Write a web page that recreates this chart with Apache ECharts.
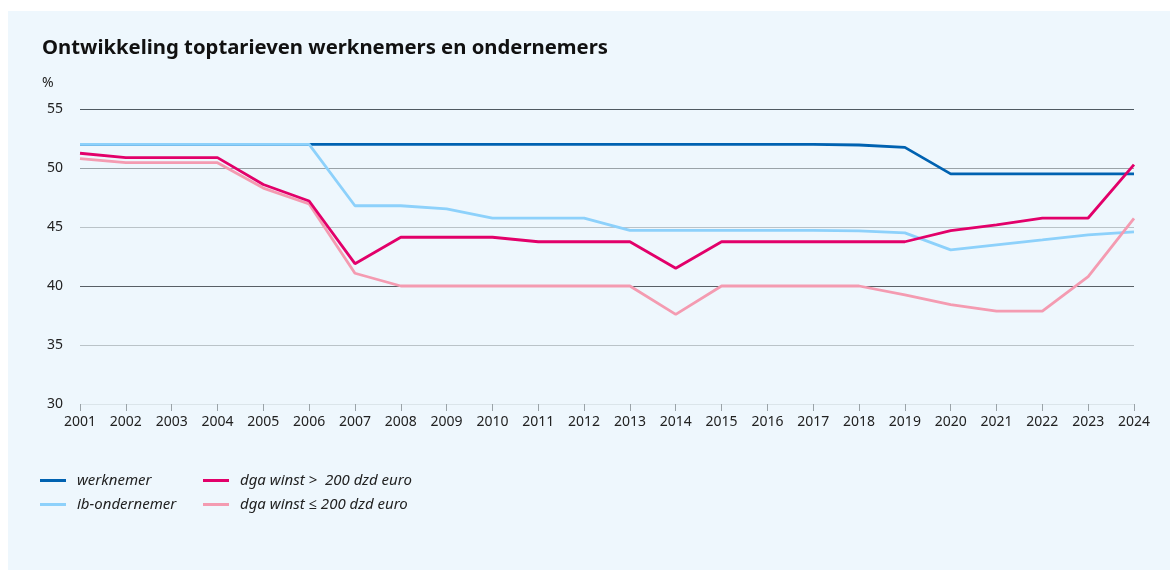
<!DOCTYPE html>
<html>
<head>
<meta charset="utf-8">
<script src="https://cdn.jsdelivr.net/npm/echarts@6/dist/echarts.min.js"></script>
<style>
  html, body { margin: 0; padding: 0; background: #fff; }
  #wrap { position: relative; width: 1170px; height: 570px; background: #fff; }
  #chart { position: absolute; left: 8px; top: 11px; width: 1162px; height: 559px; background: #eef7fd; }
</style>
</head>
<body>
<div id="wrap"><div id="chart"></div></div>
<script>
// jaren op de x-as
const years = ["2001", "2002", "2003", "2004", "2005", "2006", "2007", "2008", "2009", "2010", "2011", "2012",
  "2013", "2014", "2015", "2016", "2017", "2018", "2019", "2020", "2021", "2022", "2023", "2024"];

// toptarieven in %
const werknemer = [52, 52, 52, 52, 52, 52, 52, 52, 52, 52, 52, 52,
  52, 52, 52, 52, 52, 51.95, 51.75, 49.5, 49.5, 49.5, 49.5, 49.5];
const ibOndernemer = [52, 52, 52, 52, 52, 52, 46.8, 46.8, 46.54, 45.76, 45.76, 45.76,
  44.72, 44.72, 44.72, 44.72, 44.72, 44.68, 44.5, 43.06, 43.48, 43.9, 44.33, 44.58];
const dgaBoven = [51.25, 50.88, 50.88, 50.88, 48.6, 47.2, 41.89, 44.13, 44.13, 44.13, 43.75, 43.75,
  43.75, 41.5, 43.75, 43.75, 43.75, 43.75, 43.75, 44.69, 45.18, 45.76, 45.76, 50.29];
const dgaOnder = [50.8, 50.45, 50.45, 50.45, 48.3, 46.95, 41.08, 40, 40, 40, 40, 40,
  40, 37.6, 40, 40, 40, 40, 39.25, 38.42, 37.87, 37.87, 40.79, 45.73];

const names = ["werknemer", "ib-ondernemer", "dga winst >  200 dzd euro", "dga winst \u2264 200 dzd euro"];
const colors = ["#0062b1", "#8dd1fb", "#e2006a", "#f49bb1"];

const font = "'Noto Sans', 'Open Sans', sans-serif";
const chart = echarts.init(document.getElementById("chart"));

function lineSeries(i, data, z) {
  return {
    name: names[i],
    type: "line",
    data: data,
    symbol: "none",
    z: z,
    lineStyle: { color: colors[i], width: 2.8 },
    itemStyle: { color: colors[i] },
  };
}

const legendBase = {
  orient: "vertical",
  top: 457,
  itemWidth: 26,
  itemHeight: 3,
  itemGap: 9,
  icon: "rect",
  textStyle: {
    fontFamily: font,
    fontStyle: "italic",
    fontSize: 15,
    color: "#222",
    padding: [0, 0, 0, 6],
  },
};

chart.setOption({
  animation: false,
  title: {
    text: "Ontwikkeling toptarieven werknemers en ondernemers",
    left: 29,
    top: 22,
    textStyle: { fontFamily: font, fontWeight: "bold", fontSize: 20.3, color: "#111" },
  },
  graphic: [
    {
      type: "text",
      left: 34,
      top: 65,
      style: { text: "%", font: "14px " + font, fill: "#222" },
    },
  ],
  legend: [
    Object.assign({}, legendBase, { left: 27, data: [names[0], names[1]] }),
    Object.assign({}, legendBase, { left: 190, data: [names[2], names[3]] }),
  ],
  grid: { left: 72, right: 36, top: 98, bottom: 166 },
  xAxis: {
    type: "category",
    data: years,
    boundaryGap: false,
    axisLine: { show: false },
    axisTick: { show: true, alignWithLabel: true, length: 7, lineStyle: { color: "#9aa3a8" } },
    axisLabel: { fontFamily: font, fontSize: 14, color: "#222", margin: 11 },
  },
  yAxis: {
    type: "value",
    min: 30,
    max: 55,
    interval: 5,
    axisLine: { show: false },
    axisTick: { show: false },
    axisLabel: { fontFamily: font, fontSize: 14, color: "#222", margin: 17 },
    splitLine: {
      lineStyle: {
        color: ["#dbe5ea", "#bac3c8", "#585f65", "#bac3c8", "#9aa3a8", "#4f5961"],
        width: 1.2,
      },
    },
  },
  series: [
    lineSeries(0, werknemer, 2),
    lineSeries(1, ibOndernemer, 3),
    lineSeries(3, dgaOnder, 4),
    lineSeries(2, dgaBoven, 5),
  ],
});
</script>
</body>
</html>
